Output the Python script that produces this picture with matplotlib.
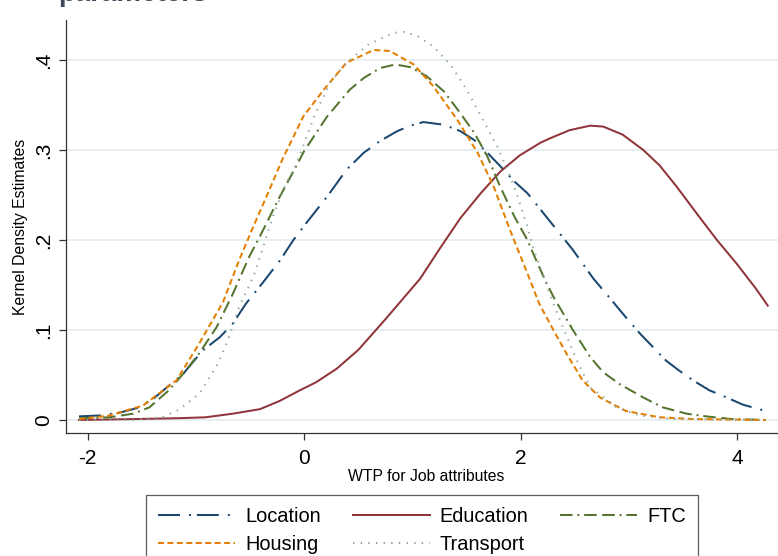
import matplotlib
matplotlib.use("Agg")
import matplotlib.pyplot as plt

plt.rcParams['font.family'] = ['Liberation Sans', 'DejaVu Sans']
plt.rcParams['axes.unicode_minus'] = False
plt.rcParams['lines.scale_dashes'] = False

# --- data (x = WTP, y = density) ---
loc_x = [-2.08, -1.89, -1.71, -1.55, -1.40, -1.28, -1.12, -0.94, -0.78, -0.66, -0.54, -0.38,
         -0.22, -0.10, 0.02, 0.21, 0.39, 0.55, 0.70, 0.86, 0.98, 1.10, 1.29, 1.44, 1.57, 1.69,
         1.81, 1.94, 2.06, 2.16, 2.48, 2.67, 2.79, 2.97, 3.10, 3.22, 3.34, 3.46, 3.59, 3.74,
         3.90, 4.05, 4.26]
loc_y = [0.004, 0.005, 0.008, 0.013, 0.023, 0.035, 0.051, 0.077, 0.092, 0.107, 0.129, 0.153,
         0.178, 0.200, 0.219, 0.248, 0.278, 0.297, 0.310, 0.321, 0.327, 0.331, 0.328, 0.321,
         0.311, 0.297, 0.282, 0.265, 0.252, 0.237, 0.189, 0.157, 0.140, 0.114, 0.096, 0.081,
         0.066, 0.055, 0.044, 0.033, 0.025, 0.017, 0.010]

edu_x = [-2.08, -1.58, -1.15, -0.91, -0.66, -0.41, -0.23, -0.04, 0.11, 0.30, 0.50, 0.75, 1.07,
         1.26, 1.44, 1.63, 1.81, 1.99, 2.18, 2.27, 2.45, 2.64, 2.76, 2.94, 3.13, 3.28, 3.44,
         3.62, 3.81, 3.99, 4.17, 4.28]
edu_y = [0.000, 0.001, 0.002, 0.003, 0.007, 0.012, 0.021, 0.033, 0.042, 0.057, 0.078, 0.112,
         0.157, 0.192, 0.224, 0.252, 0.276, 0.294, 0.308, 0.313, 0.322, 0.327, 0.326, 0.317,
         0.300, 0.283, 0.259, 0.230, 0.200, 0.174, 0.146, 0.127]

ftc_x = [-2.08, -1.80, -1.58, -1.43, -1.25, -1.12, -0.97, -0.81, -0.66, -0.51, -0.38, -0.24,
         -0.11, 0.00, 0.21, 0.42, 0.55, 0.70, 0.84, 0.98, 1.13, 1.29, 1.44, 1.57, 1.69, 1.81,
         1.94, 2.06, 2.11, 2.21, 2.30, 2.48, 2.64, 2.76, 2.91, 3.13, 3.31, 3.53, 3.71, 3.95, 4.26]
ftc_y = [0.002, 0.003, 0.007, 0.014, 0.033, 0.051, 0.074, 0.103, 0.140, 0.181, 0.211, 0.245,
         0.274, 0.299, 0.337, 0.367, 0.380, 0.391, 0.395, 0.392, 0.382, 0.365, 0.341, 0.319,
         0.293, 0.259, 0.226, 0.200, 0.186, 0.159, 0.137, 0.100, 0.070, 0.053, 0.040, 0.025,
         0.014, 0.007, 0.004, 0.001, 0.000]

hou_x = [-2.08, -1.80, -1.49, -1.18, -0.97, -0.75, -0.60, -0.47, -0.35, -0.20, -0.01, 0.18,
         0.39, 0.64, 0.79, 1.01, 1.19, 1.41, 1.60, 1.75, 1.90, 2.06, 2.17, 2.30, 2.42, 2.57,
         2.73, 2.97, 3.28, 3.60, 4.26]
hou_y = [0.001, 0.005, 0.016, 0.044, 0.085, 0.131, 0.178, 0.215, 0.248, 0.290, 0.337, 0.367,
         0.397, 0.411, 0.410, 0.395, 0.371, 0.334, 0.297, 0.259, 0.211, 0.163, 0.129, 0.100,
         0.074, 0.044, 0.025, 0.010, 0.003, 0.001, 0.000]

tra_x = [-2.08, -1.58, -1.31, -1.15, -0.97, -0.80, -0.71, -0.60, -0.47, -0.38, -0.29, -0.17,
         -0.07, 0.09, 0.24, 0.39, 0.59, 0.82, 0.92, 1.04, 1.19, 1.35, 1.50, 1.79, 1.94, 2.00,
         2.06, 2.12, 2.31, 2.42, 2.51, 2.64, 2.79, 2.88, 3.10, 3.40, 4.26]
tra_y = [0.000, 0.000, 0.003, 0.012, 0.029, 0.062, 0.087, 0.126, 0.159, 0.192, 0.226, 0.263,
         0.285, 0.337, 0.375, 0.397, 0.417, 0.430, 0.431, 0.427, 0.415, 0.395, 0.367, 0.302,
         0.259, 0.237, 0.215, 0.189, 0.126, 0.094, 0.068, 0.036, 0.023, 0.014, 0.005, 0.001,
         0.000]

x_ticks = [-2, 0, 2, 4]
y_ticks = [0, 0.1, 0.2, 0.3, 0.4]
y_tick_labels = ['0', '.1', '.2', '.3', '.4']

W, H = 778, 556
fig = plt.figure(figsize=(W / 100, H / 100), dpi=100)
ax = fig.add_axes([66 / W, 1 - 433.3 / H, (786 - 66) / W, (433.3 - 20) / H])

lw = 1.45
l_loc, = ax.plot(loc_x, loc_y, color='#1a476f', lw=lw, dashes=(15.8, 6.5, 1.4, 4.3), label='Location')
l_edu, = ax.plot(edu_x, edu_y, color='#90353b', lw=lw, label='Education')
l_ftc, = ax.plot(ftc_x, ftc_y, color='#55752f', lw=lw, dashes=(9, 3.5, 1.4, 3.5, 9, 4), label='FTC')
l_hou, = ax.plot(hou_x, hou_y, color='#e37e00', lw=lw, dashes=(4.3, 2.5), label='Housing')
l_tra, = ax.plot(tra_x, tra_y, color='#8ea59e', lw=lw, dashes=(1.0, 4.5), label='Transport')

ax.set_xlim(-2.2, 4.448)
ax.set_ylim(-0.0148, 0.4444)
ax.set_xticks(x_ticks)
ax.set_yticks(y_ticks)
ax.set_yticklabels(y_tick_labels)
ax.grid(axis='y', color='#e3ecef', lw=1.2)
ax.set_axisbelow(True)
for s in ['top', 'right']:
    ax.spines[s].set_visible(False)
for s in ['left', 'bottom']:
    ax.spines[s].set_color('#333333')
    ax.spines[s].set_linewidth(0.9)
ax.tick_params(length=5, width=0.9, color='#333333', labelsize=15)
ax.tick_params(axis='x', pad=6)
ax.tick_params(axis='y', labelrotation=90, pad=4)
for t in ax.get_yticklabels():
    t.set_va('center')

ax.set_xlabel('WTP for Job attributes', fontsize=11.3, labelpad=1)
ax.set_ylabel('Kernel Density Estimates', fontsize=11.3, labelpad=5)

# title cut off by the top edge of the picture
fig.text(58 / W, 1 - 0.6 / H, 'parameters', fontsize=20, fontweight='bold',
         color='#3a4a5a', va='baseline', ha='left')

# legend filled row by row as in the reference
handles = [l_loc, l_hou, l_edu, l_tra, l_ftc]
leg = fig.legend(handles, [h.get_label() for h in handles], loc='upper left',
                 bbox_to_anchor=(146 / W, 1 - 495 / H), ncol=3,
                 fontsize=14.4, frameon=True, fancybox=False, handlelength=3.85,
                 handletextpad=0.5, columnspacing=1.6, labelspacing=0.45,
                 borderpad=0.6, borderaxespad=0)
leg.get_frame().set_edgecolor('#333333')
leg.get_frame().set_linewidth(0.9)

fig.savefig('out.png', dpi=100)
